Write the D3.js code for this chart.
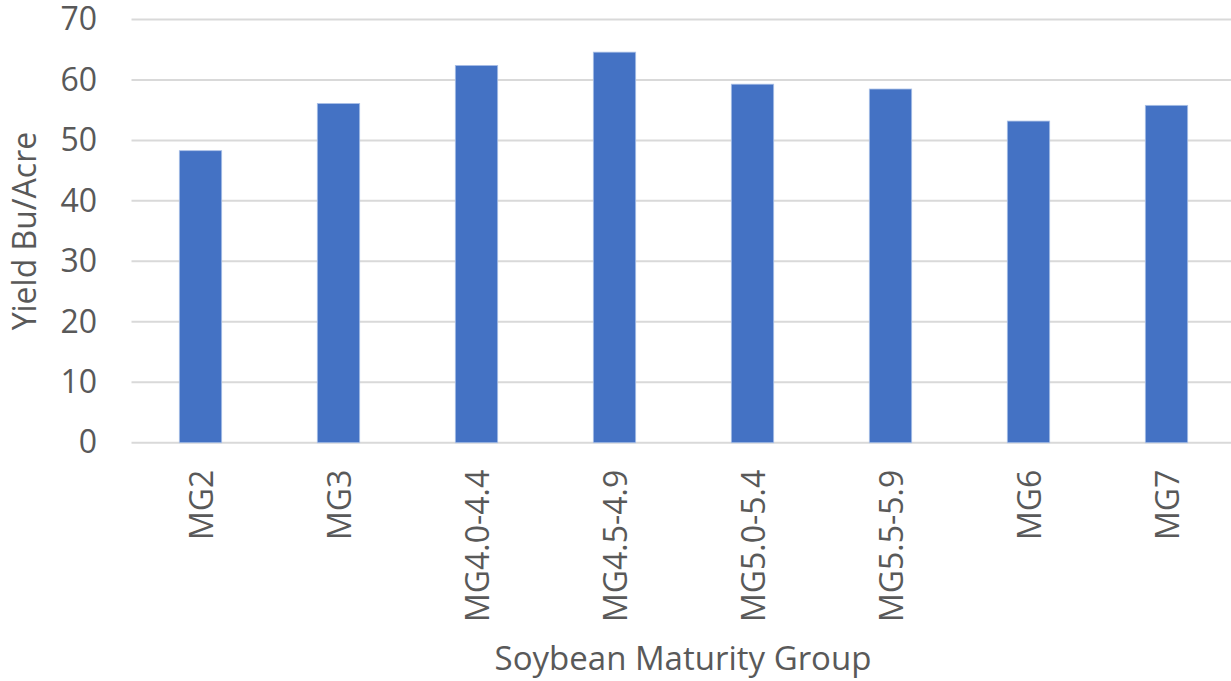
<!DOCTYPE html>
<html>
<head>
<meta charset="utf-8">
<script src="https://cdn.jsdelivr.net/npm/d3@7"></script>
<style>
  body { margin: 0; background: #fff; }
  svg { display: block; font-family: "Open Sans", "Noto Sans", sans-serif; }
</style>
</head>
<body>
<div id="chart"></div>
<script>
const categories = ['MG2', 'MG3', 'MG4.0-4.4', 'MG4.5-4.9', 'MG5.0-5.4', 'MG5.5-5.9', 'MG6', 'MG7'];
const yieldValues = [48.3, 56.1, 62.4, 64.6, 59.3, 58.5, 53.2, 55.8];
const yTicks = [0, 10, 20, 30, 40, 50, 60, 70];

const width = 1231;
const height = 681;
const margin = { top: 19.5, right: -4.5, bottom: 238.3, left: 131.5 };

const svg = d3.select('#chart')
    .append('svg')
    .attr('width', width)
    .attr('height', height);

const x = d3.scaleBand()
    .domain(categories)
    .range([margin.left, width - margin.right])
    .paddingInner(0.693)
    .paddingOuter(0.3465);

const y = d3.scaleLinear()
    .domain([0, 70])
    .range([height - margin.bottom, margin.top]);

// gridlines
svg.append('g')
    .selectAll('line')
    .data(yTicks)
    .join('line')
    .attr('x1', margin.left)
    .attr('x2', width)
    .attr('y1', d => y(d))
    .attr('y2', d => y(d))
    .attr('stroke', '#d9d9d9')
    .attr('stroke-width', 2);

// bars
svg.append('g')
    .selectAll('rect')
    .data(categories)
    .join('rect')
    .attr('x', d => x(d))
    .attr('y', (d, i) => y(yieldValues[i]))
    .attr('width', x.bandwidth())
    .attr('height', (d, i) => y(0) - y(yieldValues[i]))
    .attr('fill', '#4472c4')
    .attr('stroke', '#a9bfe6')
    .attr('stroke-width', 0.8);

// y axis labels
const yAxis = d3.axisLeft(y).tickValues(yTicks).tickSize(0).tickPadding(0);
svg.append('g')
    .attr('transform', `translate(97,0)`)
    .call(yAxis)
    .call(g => g.select('.domain').remove())
    .selectAll('text')
    .attr('fill', '#595959')
    .style('font-size', '32px')
    .attr('font-family', '"Open Sans", "Noto Sans", sans-serif');

// x axis labels, rotated
const xAxis = d3.axisBottom(x).tickSize(0).tickPadding(0);
svg.append('g')
    .attr('transform', `translate(0,${y(0)})`)
    .call(xAxis)
    .call(g => g.select('.domain').remove())
    .selectAll('text')
    .attr('fill', '#595959')
    .style('font-size', '32px')
    .attr('font-family', '"Open Sans", "Noto Sans", sans-serif')
    .attr('text-anchor', 'end')
    .attr('transform', 'rotate(-90)')
    .attr('x', -27)
    .attr('y', 1)
    .attr('dy', '0.35em');

// axis titles
svg.append('text')
    .attr('transform', `translate(36,${(y(0) + y(70)) / 2}) rotate(-90)`)
    .attr('text-anchor', 'middle')
    .attr('fill', '#595959')
    .style('font-size', '32px')
    .text('Yield Bu/Acre');

svg.append('text')
    .attr('x', 683)
    .attr('y', 670)
    .attr('text-anchor', 'middle')
    .attr('fill', '#595959')
    .style('font-size', '33px')
    .text('Soybean Maturity Group');
</script>
</body>
</html>
